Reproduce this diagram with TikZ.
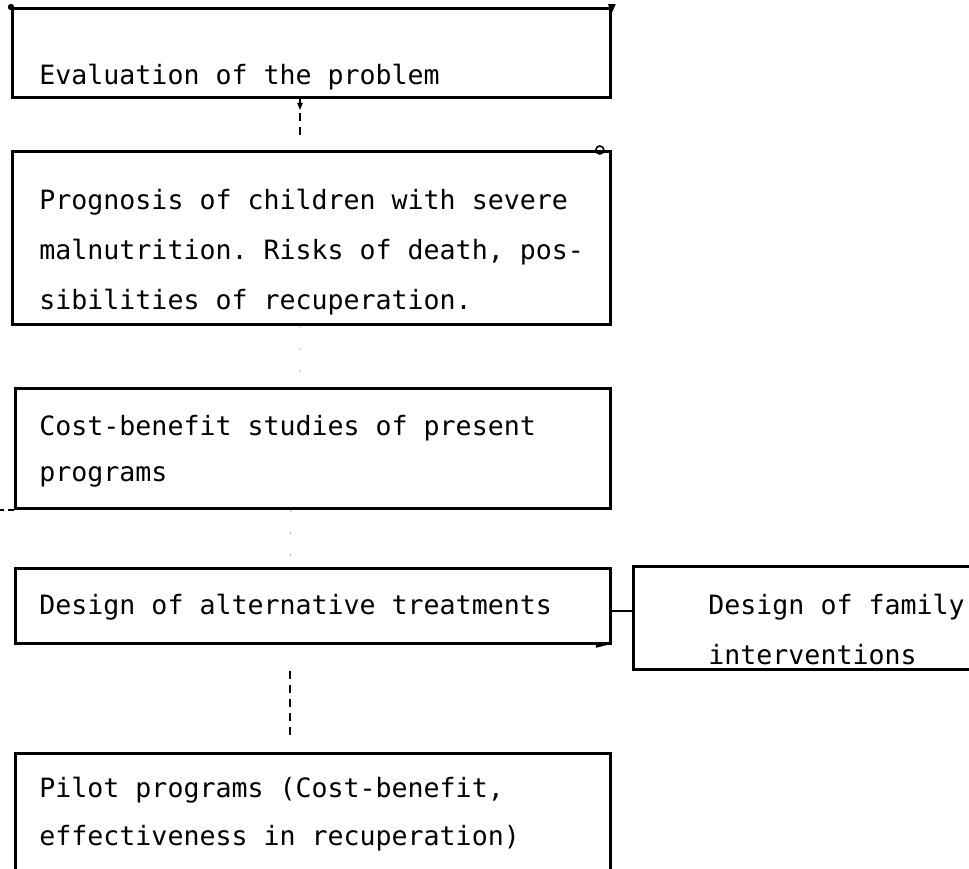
\documentclass[tikz,border=0pt]{standalone}
\usepackage{fontspec}
\setmonofont{DejaVu Sans Mono}
\usetikzlibrary{arrows.meta,calc}
\begin{document}
\begin{tikzpicture}[x=0.5pt,y=-0.5pt,
  box/.style={draw=black, line width=1.4pt, rectangle, inner sep=0pt, anchor=north west},
  txt/.style={inner sep=0pt, anchor=base west, align=left, font=\ttfamily\fontsize{13.3}{#1}\selectfont},
  txt/.default=24pt,
  conn/.style={draw=black, line width=0.7pt, dash pattern=on 4pt off 3pt},
  faint/.style={draw=black!25, line width=0.5pt, dash pattern=on 1pt off 10pt},
  link/.style={draw=black, line width=1.1pt}
]
\useasboundingbox (0,0) rectangle (969,868);
\fill[white] (0,0) rectangle (969,868);

% boxes (pixel coordinates, 1px = 0.5pt)
\node[box, minimum width=299pt, minimum height=44.5pt] (b1) at (11,7) {};
\node[box, minimum width=299pt, minimum height=86.5pt] (b2) at (11,150) {};
\node[box, minimum width=297.5pt, minimum height=60pt] (b3) at (14,387) {};
\node[box, minimum width=297.5pt, minimum height=37.5pt] (b4) at (14,567) {};
\node[box, minimum width=180pt, minimum height=51.5pt] (b5) at (632,565) {};
\node[box, minimum width=297.5pt, minimum height=70pt] (b6) at (14,752) {};

% texts (anchor = baseline of the last line)
\node[txt] (t1) at (39,84) {Evaluation of the problem};
\node[txt=25pt] (t2) at (39,309) {Prognosis of children with severe\\malnutrition. Risks of death, pos-\\sibilities of recuperation.};
\node[txt=23pt] (t3) at (39,481) {Cost-benefit studies of present\\programs};
\node[txt] (t4) at (39,614) {Design of alternative treatments};
\node[txt=25pt] (t5) at (708,664) {Design of family\\interventions};
\node[txt=24pt] (t6) at (39,845) {Pilot programs (Cost-benefit,\\effectiveness in recuperation)};

% connectors
\coordinate (x12) at (300,0);
\coordinate (x23) at (300,0);
\coordinate (x34) at (290,0);
\coordinate (x46) at (290,0);
\coordinate (y45) at (0,611);
\draw[conn] (b1.south -| x12) -- ($(b2.north -| x12)+(0,-10)$);
\fill ($(b1.south -| x12)+(-3,4)$) -- ++(6,0) -- ++(-3,7) -- cycle;
\draw[faint] (b2.south -| x23) -- (b3.north -| x23);
\draw[faint] (b3.south -| x34) -- (b4.north -| x34);
\draw[conn] ($(b4.south -| x46)+(0,26)$) -- ($(b6.north -| x46)+(0,-14)$);
\draw[link] (b4.east |- y45) -- (b5.west |- y45);

% small marks left by the original drawing
\fill (b1.north west) circle (1.6pt);
\fill ($(b1.north east)+(-4,-3)$) -- ++(8,0) -- ++(-4,9) -- cycle;
\draw[line width=0.8pt] ($(b2.north east)+(-12,0)$) circle (2pt);
\draw[line width=0.8pt, dash pattern=on 3pt off 2pt] (b3.south west) -- ++(-14,0);
\fill ($(b4.south east)+(-16,-3)$) -- ++(12,3) -- ++(-12,3) -- cycle;
\end{tikzpicture}
\end{document}
